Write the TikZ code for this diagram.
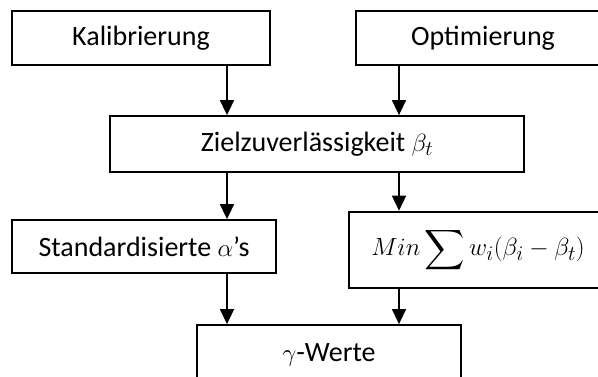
\documentclass[tikz,border=0pt]{standalone}
\usepackage{amsmath}
\usepackage{amssymb}
\usepackage{fontspec}
\setmainfont{Carlito}
\usetikzlibrary{arrows.meta}

\begin{document}
\begin{tikzpicture}[x=1pt, y=-1pt, >={Triangle[length=15pt, width=14pt]},
    kasten/.style={draw, line width=1.8pt, inner sep=0pt, font=\fontsize{28}{32}\selectfont},
    pfeil/.style={->, line width=1.6pt}]
            \clip (0,0) rectangle (598,376);
            % Obere Reihe
            \node[kasten, minimum width=258pt, minimum height=54pt] (kal) at (141,38) {Kalibrierung};
            \node[kasten, minimum width=254pt, minimum height=54pt] (opt) at (483,38) {Optimierung};
            
            % Mitte
            \node[kasten, minimum width=414pt, minimum height=56pt] (ziel) at (317,144) {Zielzuverlässigkeit $\beta_t$};
            \node[kasten, minimum width=264pt, minimum height=53pt] (std) at (144,246.5) {Standardisierte $\alpha$'s};
            \node[kasten, minimum width=258pt, minimum height=76pt] (min) at (478,249.6) {$Min\displaystyle\sum w_i(\beta_i-\beta_t)$};
            
            % Unten
            \node[kasten, minimum width=264pt, minimum height=60pt] (gam) at (329,355) {$\gamma$-Werte};
            
            % Pfeile
            \coordinate (links) at (227,0);
            \coordinate (rechts) at (399,0);
            \draw[pfeil] (kal.south -| links) -- (ziel.north -| links);
            \draw[pfeil] (opt.south -| rechts) -- (ziel.north -| rechts);
            \draw[pfeil] (ziel.south -| links) -- (std.north -| links);
            \draw[pfeil] (ziel.south -| rechts) -- (min.north -| rechts);
            \draw[pfeil] (std.south -| links) -- (gam.north -| links);
            \draw[pfeil] (min.south -| rechts) -- (gam.north -| rechts);
        \end{tikzpicture}
\end{document}
